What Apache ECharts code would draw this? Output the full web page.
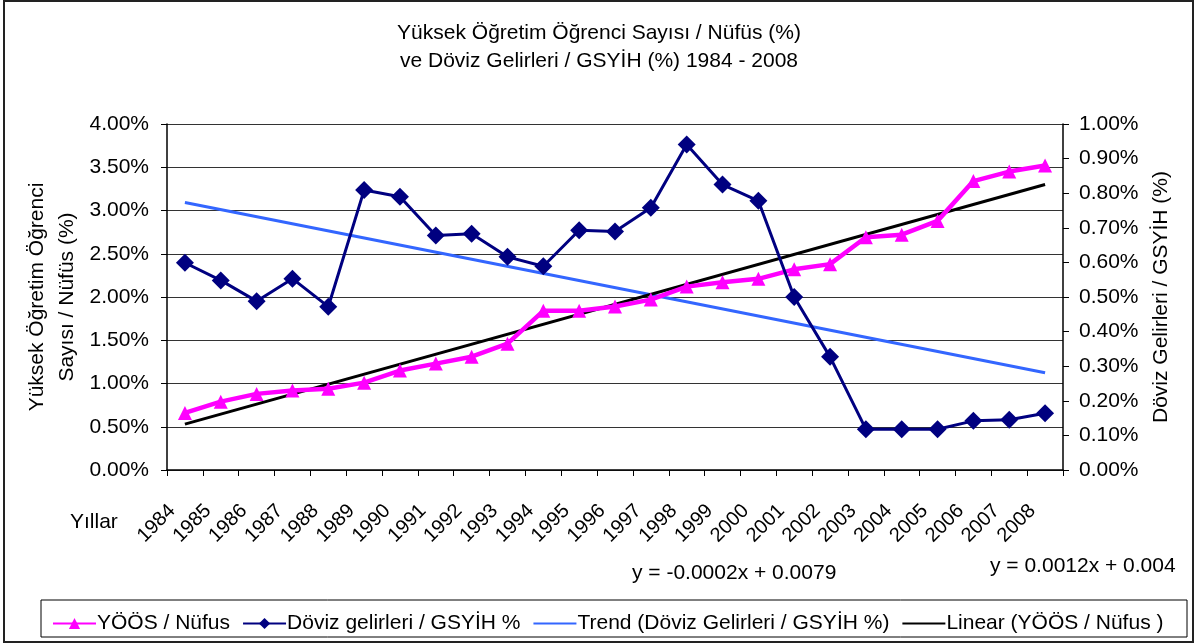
<!DOCTYPE html>
<html>
<head>
<meta charset="utf-8">
<script src="https://cdn.jsdelivr.net/npm/echarts@6/dist/echarts.min.js"></script>
<style>
  html, body { margin: 0; padding: 0; background: #fff; }
  #chart { width: 1198px; height: 644px; }
</style>
</head>
<body>
<div id="chart"></div>
<script>
// yillar
var years = ['1984', '1985', '1986', '1987', '1988', '1989', '1990', '1991', '1992', '1993',
    '1994', '1995', '1996', '1997', '1998', '1999', '2000', '2001', '2002', '2003',
    '2004', '2005', '2006', '2007', '2008'];

// YÖÖS / Nüfus (%) - sol eksen
var yoosNufus = [0.66, 0.79, 0.88, 0.92, 0.94, 1.01, 1.15, 1.23, 1.31, 1.46,
    1.84, 1.84, 1.89, 1.97, 2.12, 2.17, 2.21, 2.32, 2.38, 2.69,
    2.72, 2.88, 3.34, 3.45, 3.52];

// Döviz gelirleri / GSYİH (%) - sag eksen
var dovizGsyih = [0.599, 0.548, 0.488, 0.553, 0.472, 0.809, 0.790, 0.678, 0.683, 0.616,
    0.589, 0.693, 0.689, 0.758, 0.941, 0.825, 0.778, 0.500, 0.327, 0.118,
    0.118, 0.118, 0.142, 0.145, 0.164];

// trend cizgileri (baslangic / bitis)
var trendDovizEnds = [0.773, 0.281];
var linearYoosEnds = [0.53, 3.30];

var font = 'Liberation Sans, Arial, sans-serif';
var fs = 21;

var chart = echarts.init(document.getElementById('chart'));
chart.setOption({
    animation: false,
    backgroundColor: '#fff',
    textStyle: { fontFamily: font },
    title: {
        text: 'Yüksek Öğretim Öğrenci Sayısı / Nüfüs (%)\nve Döviz Gelirleri / GSYİH (%) 1984 - 2008',
        left: 'center',
        top: 14,
        textStyle: { fontFamily: font, fontSize: fs, fontWeight: 'normal', color: '#000', lineHeight: 28 }
    },
    grid: { left: 167, right: 135, top: 124, bottom: 174 },
    legend: {
        left: 47,
        top: 608,
        itemWidth: 43,
        itemHeight: 14,
        itemGap: 12,
        textStyle: { fontFamily: font, fontSize: fs, color: '#000', padding: [0, 0, 0, -4] },
        data: [
            { name: 'YÖÖS / Nüfus', textStyle: { width: 148 } },
            { name: 'Döviz gelirleri / GSYİH %', textStyle: { width: 250 } },
            { name: 'Trend (Döviz Gelirleri / GSYİH %)', itemStyle: { opacity: 0 }, textStyle: { width: 318 } },
            { name: 'Linear (YÖÖS / Nüfus )', itemStyle: { opacity: 0 }, textStyle: { width: 224 } }
        ]
    },
    xAxis: {
        type: 'category',
        data: years,
        boundaryGap: true,
        axisLine: { lineStyle: { color: '#000', width: 1.5 } },
        axisTick: { show: true, length: 6, lineStyle: { color: '#000' } },
        axisLabel: {
            interval: 0,
            rotate: 45,
            margin: 25,
            padding: [0, 18, 0, 0],
            fontFamily: font,
            fontSize: 20,
            color: '#000'
        }
    },
    yAxis: [{
        type: 'value',
        min: 0,
        max: 4,
        interval: 0.5,
        position: 'left',
        axisLine: { show: true, lineStyle: { color: '#000', width: 1.5 } },
        axisTick: { show: true, length: 6, lineStyle: { color: '#000' } },
        splitLine: { show: true, lineStyle: { color: '#333', width: 1.2 } },
        axisLabel: {
            margin: 18,
            fontFamily: font,
            fontSize: fs,
            color: '#000',
            formatter: function (v) { return v.toFixed(2) + '%'; }
        }
    }, {
        type: 'value',
        min: 0,
        max: 1,
        interval: 0.1,
        position: 'right',
        axisLine: { show: true, lineStyle: { color: '#000', width: 1.5 } },
        axisTick: { show: true, length: 6, lineStyle: { color: '#000' } },
        splitLine: { show: false },
        axisLabel: {
            margin: 16,
            fontFamily: font,
            fontSize: fs,
            color: '#000',
            formatter: function (v) { return v.toFixed(2) + '%'; }
        }
    }],
    series: [{
        name: 'YÖÖS / Nüfus',
        type: 'line',
        yAxisIndex: 0,
        data: yoosNufus,
        symbol: 'triangle',
        symbolSize: 14,
        itemStyle: { color: '#FF00FF' },
        lineStyle: { color: '#FF00FF', width: 4.5 },
        z: 4
    }, {
        name: 'Döviz gelirleri / GSYİH %',
        type: 'line',
        yAxisIndex: 1,
        data: dovizGsyih,
        symbol: 'diamond',
        symbolSize: 18,
        itemStyle: { color: '#000080' },
        lineStyle: { color: '#000080', width: 3 },
        z: 5
    }, {
        name: 'Trend (Döviz Gelirleri / GSYİH %)',
        type: 'line',
        yAxisIndex: 1,
        data: [[years[0], trendDovizEnds[0]], [years[years.length - 1], trendDovizEnds[1]]],
        symbol: 'none',
        lineStyle: { color: '#3366FF', width: 3 },
        itemStyle: { color: '#3366FF' },
        z: 3
    }, {
        name: 'Linear (YÖÖS / Nüfus )',
        type: 'line',
        yAxisIndex: 0,
        data: [[years[0], linearYoosEnds[0]], [years[years.length - 1], linearYoosEnds[1]]],
        symbol: 'none',
        lineStyle: { color: '#000', width: 3 },
        itemStyle: { color: '#000' },
        z: 3
    }],
    graphic: [{
        type: 'rect',
        shape: { x: 4, y: 1, width: 1189, height: 641 },
        style: { fill: 'none', stroke: '#222', lineWidth: 2 },
        silent: true
    }, {
        type: 'rect',
        shape: { x: 41, y: 600, width: 1146, height: 37 },
        style: { fill: 'none', stroke: '#000', lineWidth: 1 },
        silent: true
    }, {
        type: 'text',
        x: 52,
        y: 297,
        rotation: Math.PI / 2,
        style: {
            text: 'Yüksek Öğretim Öğrenci\nSayısı / Nüfüs (%)',
            font: fs + 'px ' + font,
            fill: '#000',
            align: 'center',
            verticalAlign: 'middle',
            lineHeight: 30
        }
    }, {
        type: 'text',
        x: 1161,
        y: 297,
        rotation: Math.PI / 2,
        style: {
            text: 'Döviz Gelirleri / GSYİH (%)',
            font: fs + 'px ' + font,
            fill: '#000',
            align: 'center',
            verticalAlign: 'middle'
        }
    }, {
        type: 'text',
        x: 70,
        y: 522,
        style: { text: 'Yıllar', font: fs + 'px ' + font, fill: '#000', verticalAlign: 'middle' }
    }, {
        type: 'text',
        x: 632,
        y: 573,
        style: { text: 'y = -0.0002x + 0.0079', font: fs + 'px ' + font, fill: '#000', verticalAlign: 'middle' }
    }, {
        type: 'text',
        x: 990,
        y: 566,
        style: { text: 'y = 0.0012x + 0.004', font: fs + 'px ' + font, fill: '#000', verticalAlign: 'middle' }
    }]
});
</script>
</body>
</html>
